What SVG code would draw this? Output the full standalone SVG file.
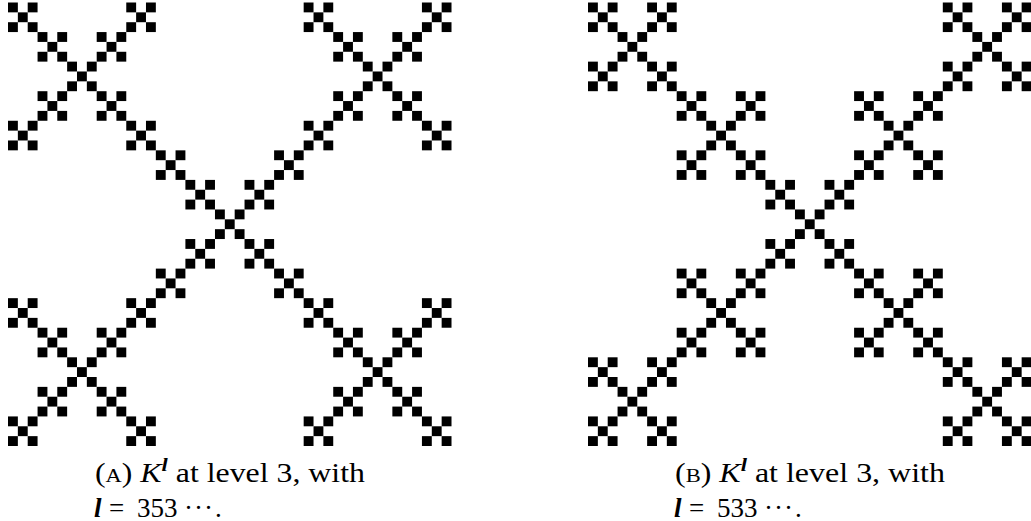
<svg xmlns="http://www.w3.org/2000/svg" xmlns:xlink="http://www.w3.org/1999/xlink" width="1031" height="521" viewBox="0 0 1031 521">
<style>
.cap{font-size:27px;fill:#000}
.sc{font-size:19px}
.it{font-style:italic}
.bi{font-style:italic;font-weight:bold}
.sup{font-size:19px;font-style:italic;font-weight:bold}
</style>
<defs>
<g id="x3" fill="#000">
<rect x="0" y="0" width="1" height="1"/>
<rect x="2" y="0" width="1" height="1"/>
<rect x="1" y="1" width="1" height="1"/>
<rect x="0" y="2" width="1" height="1"/>
<rect x="2" y="2" width="1" height="1"/>
</g>
<g id="a2">
<use xlink:href="#x3" x="0" y="0"/>
<use xlink:href="#x3" x="3" y="3"/>
<use xlink:href="#x3" x="6" y="6"/>
<use xlink:href="#x3" x="9" y="9"/>
<use xlink:href="#x3" x="12" y="12"/>
<use xlink:href="#x3" x="12" y="0"/>
<use xlink:href="#x3" x="9" y="3"/>
<use xlink:href="#x3" x="3" y="9"/>
<use xlink:href="#x3" x="0" y="12"/>
</g>
<g id="b2">
<use xlink:href="#x3" x="0" y="0"/>
<use xlink:href="#x3" x="6" y="0"/>
<use xlink:href="#x3" x="3" y="3"/>
<use xlink:href="#x3" x="0" y="6"/>
<use xlink:href="#x3" x="6" y="6"/>
</g>
</defs>
<g id="figA" transform="translate(8,2.5) scale(9.8556)">
<use xlink:href="#a2" x="0" y="0"/>
<use xlink:href="#a2" x="30" y="0"/>
<use xlink:href="#a2" x="15" y="15"/>
<use xlink:href="#a2" x="0" y="30"/>
<use xlink:href="#a2" x="30" y="30"/>
</g>
<g id="figB" transform="translate(588,2.5) scale(9.8556)">
<use xlink:href="#b2" x="0" y="0"/>
<use xlink:href="#b2" x="9" y="9"/>
<use xlink:href="#b2" x="18" y="18"/>
<use xlink:href="#b2" x="27" y="27"/>
<use xlink:href="#b2" x="36" y="36"/>
<use xlink:href="#b2" x="36" y="0"/>
<use xlink:href="#b2" x="27" y="9"/>
<use xlink:href="#b2" x="9" y="27"/>
<use xlink:href="#b2" x="0" y="36"/>
</g>
<g id="captionA" font-family="Liberation Serif, DejaVu Serif, serif">
<text class="cap" x="95" y="482" textLength="270" lengthAdjust="spacingAndGlyphs">(<tspan class="sc">A</tspan>)  <tspan class="it">K</tspan><tspan class="sup" dy="-11">l</tspan><tspan dy="11"> at level 3, with</tspan></text>
<text class="cap" y="517"><tspan class="bi" x="94">l</tspan><tspan x="109">=</tspan><tspan x="137">353</tspan><tspan x="184">·</tspan><tspan x="194">·</tspan><tspan x="204">·</tspan><tspan x="215">.</tspan></text>
</g>
<g id="captionB" font-family="Liberation Serif, DejaVu Serif, serif">
<text class="cap" x="675" y="482" textLength="270" lengthAdjust="spacingAndGlyphs">(<tspan class="sc">B</tspan>)  <tspan class="it">K</tspan><tspan class="sup" dy="-11">l</tspan><tspan dy="11"> at level 3, with</tspan></text>
<text class="cap" y="517"><tspan class="bi" x="674">l</tspan><tspan x="689">=</tspan><tspan x="717">533</tspan><tspan x="764">·</tspan><tspan x="774">·</tspan><tspan x="784">·</tspan><tspan x="795">.</tspan></text>
</g>
</svg>
